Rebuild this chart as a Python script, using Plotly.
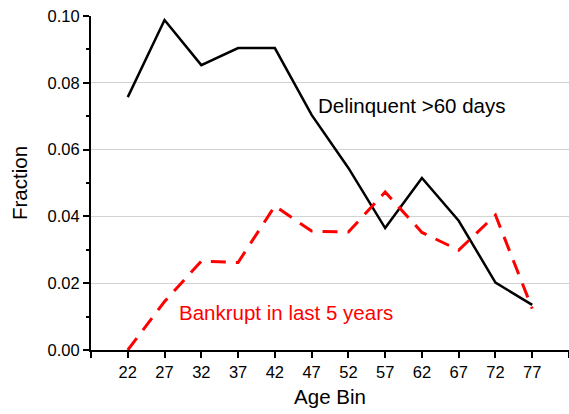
import plotly.graph_objects as go

age_bins = [22, 27, 32, 37, 42, 47, 52, 57, 62, 67, 72, 77]
delinquent = [0.0757, 0.0988, 0.0853, 0.0904, 0.0904, 0.0704, 0.0545, 0.0365, 0.0515, 0.0387, 0.0202, 0.0135]
bankrupt = [0.0, 0.0145, 0.0266, 0.0262, 0.0431, 0.0356, 0.0353, 0.0473, 0.0352, 0.0299, 0.0404, 0.0124]

x_tickvals = [17, 22, 27, 32, 37, 42, 47, 52, 57, 62, 67, 72, 77, 82]
x_ticktext = ["", "22", "27", "32", "37", "42", "47", "52", "57", "62", "67", "72", "77", ""]
y_tickvals = [0.0, 0.02, 0.04, 0.06, 0.08, 0.10]
y_ticktext = ["0.00", "0.02", "0.04", "0.06", "0.08", "0.10"]

FONT = "Liberation Sans, Arial, sans-serif"

fig = go.Figure()
fig.add_trace(go.Scatter(x=age_bins, y=delinquent, mode="lines",
                         line=dict(color="black", width=2.5), showlegend=False))
fig.add_trace(go.Scatter(x=age_bins, y=bankrupt, mode="lines",
                         line=dict(color="#ff0000", width=3, dash="15px,10px"), showlegend=False))

fig.add_annotation(x=60.6, y=0.0731, text="Delinquent >60 days", showarrow=False,
                   font=dict(family=FONT, size=20.5, color="black"), xanchor="center")
fig.add_annotation(x=43.5, y=0.0111, text="Bankrupt in last 5 years", showarrow=False,
                   font=dict(family=FONT, size=20.5, color="#ff0000"), xanchor="center")

# hide gridline at the top edge
fig.add_shape(type="line", xref="paper", yref="paper", x0=0, x1=1, y0=1, y1=1,
              line=dict(color="white", width=3), layer="between")

fig.update_layout(
    width=569, height=414,
    margin=dict(l=91, r=0, t=16, b=64),
    paper_bgcolor="white", plot_bgcolor="white",
    font=dict(family=FONT, size=16.5, color="black"),
    xaxis=dict(range=[17, 82], tickvals=x_tickvals, ticktext=x_ticktext,
               showline=True, linecolor="black", linewidth=2,
               ticks="outside", ticklen=6, tickwidth=2, tickcolor="black",
               showgrid=False, zeroline=False, automargin=False,
               title=dict(text="Age Bin", font=dict(size=20.5), standoff=10)),
    yaxis=dict(range=[0, 0.10], tickvals=y_tickvals, ticktext=y_ticktext,
               showline=True, linecolor="black", linewidth=2,
               ticks="outside", ticklen=6, tickwidth=2, tickcolor="black",
               showgrid=True, gridcolor="#d3d3d3", gridwidth=1, zeroline=False,
               automargin=False,
               minor=dict(tickvals=[0.01, 0.03, 0.05, 0.07, 0.09], ticks="outside",
                          ticklen=3, tickwidth=2, tickcolor="black", showgrid=False),
               title=dict(text="Fraction", font=dict(size=20.5), standoff=14)),
)

fig.write_html("out.html", config={"displayModeBar": False},
               post_script="document.body.style.margin='0';")
